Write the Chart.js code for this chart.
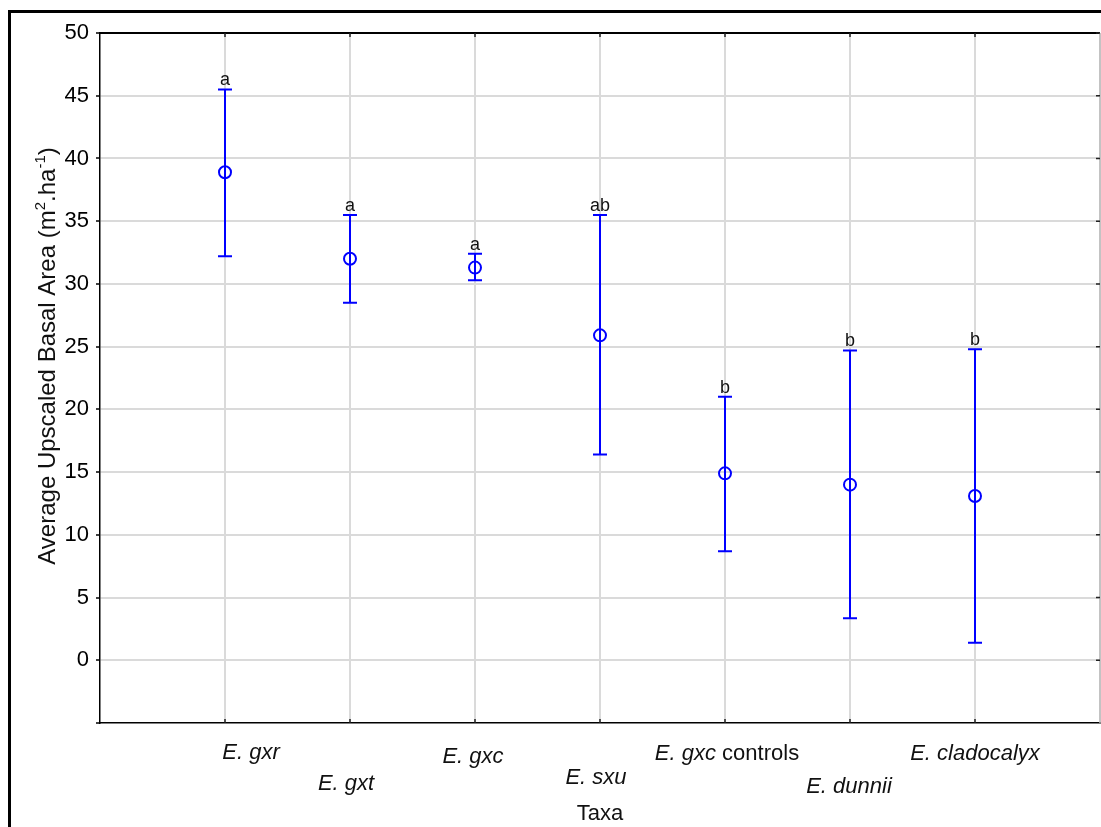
<!DOCTYPE html>
<html>
<head>
<meta charset="utf-8">
<script src="https://cdn.jsdelivr.net/npm/chart.js@4.4.1/dist/chart.umd.min.js"></script>
<style>
  html, body { margin: 0; padding: 0; background: #fff; }
  canvas { display: block; }
</style>
</head>
<body>
<canvas id="chart" width="1101" height="827"></canvas>
<script>
// taxa: italic species part + optional upright suffix
const taxaItalic = ['E. gxr', 'E. gxt', 'E. gxc', 'E. sxu', 'E. gxc', 'E. dunnii', 'E. cladocalyx']
const taxaPlain = ['', '', '', '', 'controls', '', '']
// mean basal area and its interval (m2/ha)
const means = [38.9, 32.0, 31.3, 25.9, 14.9, 14.0, 13.1]
const upper = [45.5, 35.5, 32.4, 35.5, 21.0, 24.7, 24.8]
const lower = [32.2, 28.5, 30.3, 16.4, 8.7, 3.35, 1.4]
// homogeneous groups from the post-hoc test
const groups = ['a', 'a', 'a', 'ab', 'b', 'b', 'b']

const BLUE = '#0000ff'
const FONT = '"Liberation Sans", Arial, sans-serif'
// staggered category labels: [dx from tick, baseline below axis]
const labelPlace = [[26, 36], [-4, 67], [-2, 40], [-4, 61], [2, 37], [-1, 70], [0, 37]]

const decorations = {
    id: 'decorations',
    beforeDatasetsDraw(chart) {
        const { ctx, scales: { x, y } } = chart
        ctx.save()
        ctx.strokeStyle = BLUE
        ctx.lineWidth = 2
        means.forEach((m, i) => {
            const px = Math.round(x.getPixelForValue(i + 1))
            const top = y.getPixelForValue(upper[i])
            const bot = y.getPixelForValue(lower[i])
            ctx.beginPath()
            ctx.moveTo(px, top); ctx.lineTo(px, bot)
            ctx.moveTo(px - 7, top); ctx.lineTo(px + 7, top)
            ctx.moveTo(px - 7, bot); ctx.lineTo(px + 7, bot)
            ctx.stroke()
        })
        ctx.restore()
    },
    afterDraw(chart) {
        const { ctx, chartArea: a, scales: { x, y } } = chart
        ctx.save()

        // top and right edges of the plot box
        ctx.strokeStyle = '#000'
        ctx.lineWidth = 2
        ctx.beginPath()
        ctx.moveTo(a.left, a.top); ctx.lineTo(a.right, a.top)
        ctx.stroke()
        ctx.strokeStyle = '#bbb'
        ctx.lineWidth = 1.5
        ctx.beginPath()
        ctx.moveTo(a.right, a.top); ctx.lineTo(a.right, a.bottom)
        ctx.stroke()

        // inner tick marks: right, top and bottom
        ctx.strokeStyle = '#222'
        ctx.lineWidth = 1.5
        ctx.beginPath()
        for (let v = 0; v <= 50; v += 5) {
            const py = y.getPixelForValue(v)
            ctx.moveTo(a.right - 4, py); ctx.lineTo(a.right, py)
        }
        for (let i = 1; i <= taxaItalic.length; i++) {
            const px = Math.round(x.getPixelForValue(i))
            ctx.moveTo(px, a.top); ctx.lineTo(px, a.top + 4)
            ctx.moveTo(px, a.bottom); ctx.lineTo(px, a.bottom - 4)
        }
        ctx.stroke()

        // group letters above the intervals
        ctx.fillStyle = '#111'
        ctx.font = `18px ${FONT}`
        ctx.textAlign = 'center'
        ctx.textBaseline = 'alphabetic'
        groups.forEach((g, i) => {
            ctx.fillText(g, x.getPixelForValue(i + 1), y.getPixelForValue(upper[i]) - 4)
        })

        // category labels, species names in italics
        ctx.textAlign = 'left'
        taxaItalic.forEach((name, i) => {
            const it = `italic 22px ${FONT}`, up = `22px ${FONT}`
            ctx.font = it
            const w1 = ctx.measureText(name).width
            ctx.font = up
            const suffix = taxaPlain[i] ? ' ' + taxaPlain[i] : ''
            const w2 = ctx.measureText(suffix).width
            const cx = x.getPixelForValue(i + 1) + labelPlace[i][0]
            const by = a.bottom + labelPlace[i][1]
            let sx = cx - (w1 + w2) / 2
            ctx.font = it
            ctx.fillText(name, sx, by)
            ctx.font = up
            ctx.fillText(suffix, sx + w1, by)
        })

        // x axis title
        ctx.textAlign = 'center'
        ctx.font = `22px ${FONT}`
        ctx.fillText('Taxa', x.getPixelForValue(4), a.bottom + 97)

        // y axis title with superscripts
        const parts = [
            ['Average Upscaled Basal Area (m', 24, 0],
            ['2', 15, -10],
            ['.ha', 24, 0],
            ['-1', 15, -10],
            [')', 24, 0],
        ]
        ctx.translate(55, 356)
        ctx.rotate(-Math.PI / 2)
        ctx.textAlign = 'left'
        let total = 0
        parts.forEach(([t, s]) => { ctx.font = `${s}px ${FONT}`; total += ctx.measureText(t).width })
        let tx = -total / 2
        parts.forEach(([t, s, dy]) => {
            ctx.font = `${s}px ${FONT}`
            ctx.fillText(t, tx, dy)
            tx += ctx.measureText(t).width
        })
        ctx.restore()

        // outer frame
        ctx.save()
        ctx.fillStyle = '#000'
        ctx.fillRect(8, 10, chart.width - 8, 3)
        ctx.fillRect(8, 10, 3, chart.height - 10)
        ctx.restore()
    }
}

new Chart(document.getElementById('chart'), {
    type: 'scatter',
    data: {
        datasets: [{
            data: means.map((m, i) => ({ x: i + 1, y: m })),
            pointStyle: 'circle',
            pointRadius: 6,
            pointHoverRadius: 6,
            pointBorderWidth: 2,
            pointBorderColor: BLUE,
            pointBackgroundColor: 'rgba(0,0,0,0)',
            showLine: false,
        }]
    },
    options: {
        responsive: false,
        animation: false,
        events: [],
        layout: { autoPadding: false, padding: { top: 33, right: 1, left: 0, bottom: 0 } },
        plugins: { legend: { display: false }, tooltip: { enabled: false } },
        scales: {
            x: {
                type: 'linear',
                min: 0,
                max: 8,
                ticks: { display: false, stepSize: 1 },
                grid: {
                    color: ctx => (ctx.tick && ctx.tick.value === 0) ? 'rgba(0,0,0,0)' : '#dadada',
                    lineWidth: 2,
                    drawTicks: false,
                },
                border: { color: '#000', width: 1.5 },
                afterFit: scale => { scale.height = 104 },
            },
            y: {
                min: -5,
                max: 50,
                ticks: {
                    stepSize: 5,
                    color: '#000',
                    padding: 7,
                    font: { family: FONT, size: 22 },
                    callback: v => v < 0 ? '' : v,
                },
                grid: {
                    color: ctx => (ctx.tick && (ctx.tick.value === -5 || ctx.tick.value === 50)) ? 'rgba(0,0,0,0)' : '#dadada',
                    lineWidth: 2,
                    tickLength: 4,
                    tickColor: '#000',
                    tickWidth: 1.5,
                },
                border: { color: '#000', width: 1.5 },
                afterFit: scale => { scale.width = 100 },
            }
        }
    },
    plugins: [decorations]
})
</script>
</body>
</html>
